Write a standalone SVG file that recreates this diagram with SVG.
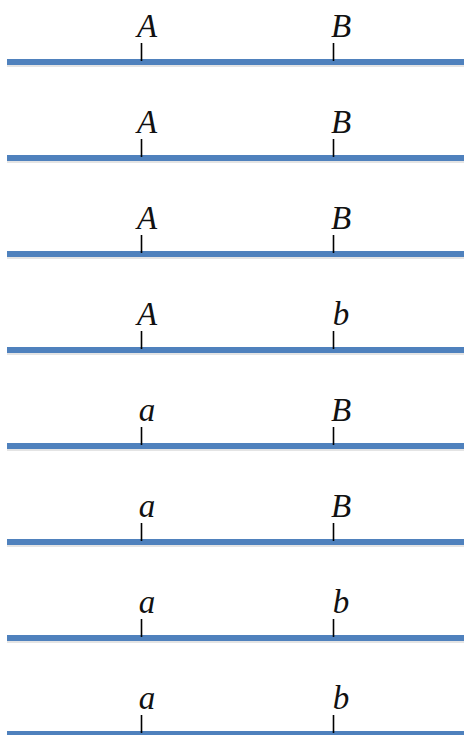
<svg xmlns="http://www.w3.org/2000/svg" width="464" height="735" viewBox="0 0 464 735">
<style>
.bar{fill:#4f81bd}
.sh{fill:#e4e4e4}
.tick{stroke:#000;stroke-width:1.6}
.lbl{font-family:"Liberation Serif","DejaVu Serif",serif;font-style:italic;font-size:33px;fill:#111;text-anchor:middle}
</style>
<defs>
<g id="row">
<rect class="sh" x="7" y="65" width="457" height="2"/>
<rect class="bar" x="7" y="59" width="457" height="6"/>
<line class="tick" x1="141.5" y1="43" x2="141.5" y2="61"/>
<line class="tick" x1="333.5" y1="43" x2="333.5" y2="61"/>
</g>
</defs>
<g id="connectors">
<use href="#row" y="0"/>
<use href="#row" y="96"/>
<use href="#row" y="192"/>
<use href="#row" y="288"/>
<use href="#row" y="384"/>
<use href="#row" y="480"/>
<use href="#row" y="576"/>
<use href="#row" y="672"/>
</g>
<g id="row1"><text class="lbl" x="147" y="37">A</text><text class="lbl" x="341" y="37">B</text></g>
<g id="row2"><text class="lbl" x="147" y="133">A</text><text class="lbl" x="341" y="133">B</text></g>
<g id="row3"><text class="lbl" x="147" y="229">A</text><text class="lbl" x="341" y="229">B</text></g>
<g id="row4"><text class="lbl" x="147" y="325">A</text><text class="lbl" x="341" y="325">b</text></g>
<g id="row5"><text class="lbl" x="147" y="421">a</text><text class="lbl" x="341" y="421">B</text></g>
<g id="row6"><text class="lbl" x="147" y="517">a</text><text class="lbl" x="341" y="517">B</text></g>
<g id="row7"><text class="lbl" x="147" y="613">a</text><text class="lbl" x="341" y="613">b</text></g>
<g id="row8"><text class="lbl" x="147" y="709">a</text><text class="lbl" x="341" y="709">b</text></g>
</svg>
